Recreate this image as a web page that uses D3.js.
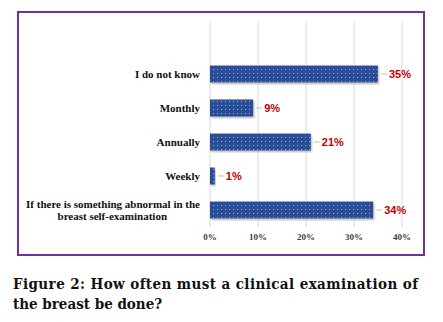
<!DOCTYPE html>
<html lang="en">
<head>
<meta charset="UTF-8">
<script src="https://d3js.org/d3.v7.min.js"></script>
<title>Clinical examination frequency</title>
<style>
  body { margin: 0; background: #fff; }
</style>
</head>
<body>
<svg id="chart"></svg>
<script>
const categories = ["I do not know", "Monthly", "Annually", "Weekly", "If there is something abnormal in the|breast self-examination"];
const values = [35, 9, 21, 1, 34];
const ticks = [0, 10, 20, 30, 40];

const width = 443, height = 322;
const svg = d3.select("#chart").attr("width", width).attr("height", height);

// dotted bar fill
const defs = svg.append("defs");
const pat = defs.append("pattern").attr("id", "dots")
    .attr("width", 4).attr("height", 4).attr("patternUnits", "userSpaceOnUse");
pat.append("rect").attr("width", 4).attr("height", 4).attr("fill", "#2b4e9b");
pat.append("rect").attr("x", 1).attr("y", 1).attr("width", 1).attr("height", 1).attr("fill", "#8fb79a");
const f = defs.append("filter").attr("id", "shadow");
f.append("feDropShadow").attr("dx", 1).attr("dy", 1.5).attr("stdDeviation", 1).attr("flood-color", "#888").attr("flood-opacity", 0.6);

// purple frame
svg.append("rect").attr("x", 18).attr("y", 12).attr("width", 406).attr("height", 243)
    .attr("fill", "none").attr("stroke", "#7030a0").attr("stroke-width", 2);

const x = d3.scaleLinear().domain([0, 40]).range([210, 402]);
const y = d3.scaleBand().domain(categories).range([57, 227]).paddingInner(0.5).paddingOuter(0.25);

// gridlines
svg.append("g").selectAll("line").data(ticks).join("line")
    .attr("x1", d => x(d)).attr("x2", d => x(d))
    .attr("y1", 22).attr("y2", 227)
    .attr("stroke", "#d9d9d9").attr("stroke-width", 1);

// tick labels
svg.append("g").selectAll("text").data(ticks).join("text")
    .attr("x", d => x(d)).attr("y", 240)
    .attr("text-anchor", "middle")
    .attr("font-family", "'Liberation Serif', serif").attr("font-weight", "bold").attr("font-size", 9)
    .attr("fill", "#404040")
    .text(d => d + "%");

// bars
svg.append("g").selectAll("rect").data(values).join("rect")
    .attr("x", x(0)).attr("y", (d, i) => y(categories[i]))
    .attr("width", d => x(d) - x(0)).attr("height", y.bandwidth())
    .attr("fill", "url(#dots)").attr("filter", "url(#shadow)");

// leader lines + value labels
svg.append("g").selectAll("line").data(values).join("line")
    .attr("x1", d => x(d) + 3).attr("x2", d => x(d) + 9)
    .attr("y1", (d, i) => y(categories[i]) + y.bandwidth() / 2)
    .attr("y2", (d, i) => y(categories[i]) + y.bandwidth() / 2)
    .attr("stroke", "#bfbfbf");
svg.append("g").selectAll("text").data(values).join("text")
    .attr("x", d => x(d) + 11)
    .attr("y", (d, i) => y(categories[i]) + y.bandwidth() / 2 + 4)
    .attr("font-family", "'Liberation Sans', sans-serif").attr("font-weight", "bold").attr("font-size", 11)
    .attr("fill", "#c00000")
    .text(d => d + "%");

// category labels
const cat = svg.append("g").selectAll("text").data(categories).join("text")
    .attr("text-anchor", "end")
    .attr("font-family", "'Liberation Serif', serif").attr("font-weight", "bold").attr("font-size", 11)
    .attr("fill", "#111");
cat.each(function(d) {
    const lines = d.split("|");
    const cy = y(d) + y.bandwidth() / 2;
    const t = d3.select(this);
    lines.forEach((l, j) => {
        t.append("tspan")
            .attr("x", lines.length > 1 && j === 1 ? 167 : 200)
            .attr("y", cy + 4 + (j - (lines.length - 1) / 2) * 12)
            .text(l);
    });
});

// caption
const cap = svg.append("g").attr("font-family", "'DejaVu Serif Condensed', 'DejaVu Serif', serif").attr("font-weight", "bold")
    .attr("font-size", 15).attr("fill", "#111");
cap.append("text").attr("x", 13).attr("y", 289)
    .attr("textLength", 405).attr("lengthAdjust", "spacing")
    .text("Figure 2: How often must a clinical examination of");
cap.append("text").attr("x", 13).attr("y", 309)
    .text("the breast be done?");
</script>
</body>
</html>
